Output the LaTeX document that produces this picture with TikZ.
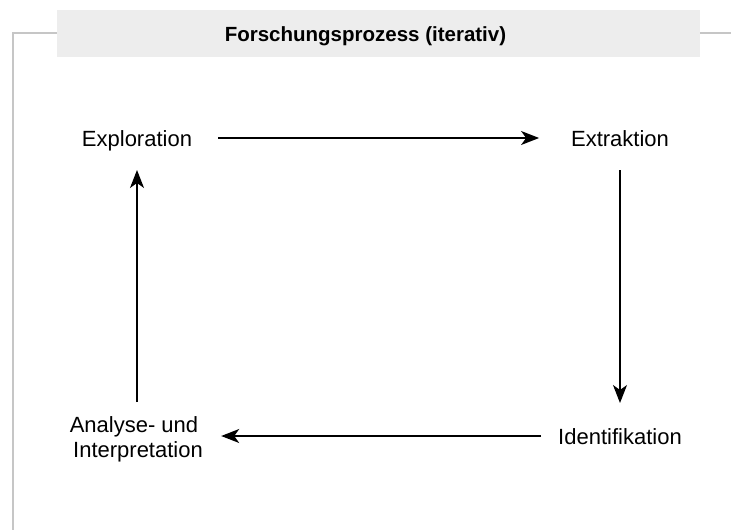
\documentclass[tikz,border=0pt]{standalone}
\usepackage{fontspec}
\setmainfont{Liberation Sans}
\usetikzlibrary{arrows.meta}
\definecolor{bandgray}{HTML}{EDEDED}
\definecolor{framegray}{HTML}{C6C6C6}
\begin{document}
\begin{tikzpicture}[x=1pt,y=-1pt,
  lbl/.style={inner sep=0pt,outer sep=0pt,font=\fontsize{22}{25}\selectfont,text height=17pt,text depth=0pt,anchor=center},
  arr/.style={line width=1.3pt,-{Stealth[length=18pt,width=14pt,inset=5pt]}},
  frame/.style={draw=framegray,line width=1.6pt}]
\useasboundingbox (0,0) rectangle (731,530);
% frame
\fill[bandgray] (57,9.5) rectangle (700,57);
\draw[frame] (13,530) -- (13,33) -- (57,33);
\draw[frame] (700,33) -- (731,33);
\node[inner sep=0pt,anchor=base,font=\fontsize{20.5}{24}\selectfont\bfseries] (title) at (365.5,41.5) {Forschungsprozess (iterativ)};
% nodes
\node[lbl] (expl) at (137,138) {Exploration};
\node[lbl] (extr) at (620,138) {Extraktion};
\node[lbl] (ident) at (620,436) {Identifikation};
\node[inner sep=0pt,outer sep=0pt,font=\fontsize{22}{25}\selectfont,align=center,anchor=base] (anal) at (138,457) {Analyse- und\hspace*{8pt}\\Interpretation};
% connectors
\draw[arr,shorten <=26pt,shorten >=32pt] (expl.east) -- (extr.west);
\draw[arr,shorten <=23.5pt,shorten >=24.5pt] (extr.south) -- (ident.north);
\draw[arr,shorten <=17pt,shorten >=15pt] (ident.west) -- (anal.east |- ident.west);
\draw[arr,shorten <=14pt,shorten >=23.5pt] (anal.north -| expl.south) -- (expl.south);
\end{tikzpicture}
\end{document}
